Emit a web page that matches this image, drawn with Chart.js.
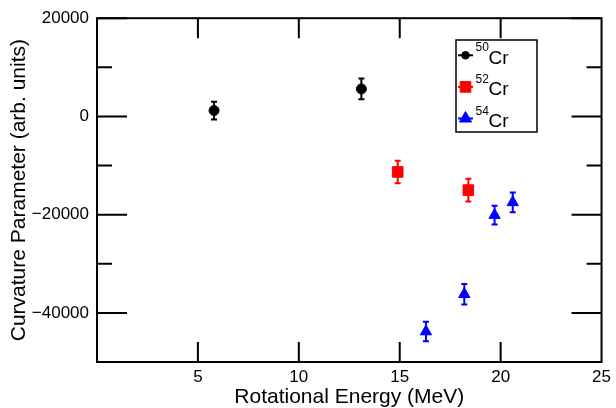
<!DOCTYPE html>
<html><head><meta charset="utf-8">
<script src="https://cdn.jsdelivr.net/npm/chart.js@4/dist/chart.umd.min.js"></script>
<style>html,body{margin:0;padding:0;background:#fff}</style>
</head><body>
<canvas id="c" width="616" height="408" style="width:616px;height:408px;display:block"></canvas>
<script>
// ---- data ----
const massNumbers = ['50', '52', '54'];
const element = 'Cr';
const cr50X = [5.8, 13.1];
const cr50Y = [1200, 5600];
const cr50Err = [1800, 2100];
const cr52X = [14.9, 18.4];
const cr52Y = [-11300, -15000];
const cr52Err = [2300, 2300];
const cr54X = [16.3, 18.2, 19.7, 20.6];
const cr54Y = [-43800, -36200, -20100, -17500];
const cr54Err = [2000, 2100, 1900, 2000];
const xTickLabels = [5, 10, 15, 20, 25];
const yTickLabels = [20000, 0, -20000, -40000];
const xTitle = 'Rotational Energy (MeV)';
const yTitle = 'Curvature Parameter (arb. units)';

const FONT = "'Liberation Sans', Arial, sans-serif";

function pts(xs, ys, es) { return xs.map((x, i) => ({x: x, y: ys[i], e: es[i]})); }

const errPlugin = {
  id: 'errbars',
  beforeDatasetsDraw(chart) {
    const ctx = chart.ctx, xs = chart.scales.x, ys = chart.scales.y;
    chart.data.datasets.forEach(ds => {
      ctx.save();
      ctx.strokeStyle = ds.borderColor;
      ctx.lineWidth = 2;
      ds.data.forEach(p => {
        const px = xs.getPixelForValue(p.x);
        const y1 = ys.getPixelForValue(p.y + p.e), y2 = ys.getPixelForValue(p.y - p.e);
        ctx.beginPath();
        ctx.moveTo(px, y1); ctx.lineTo(px, y2);
        ctx.moveTo(px - 3, y1); ctx.lineTo(px + 3, y1);
        ctx.moveTo(px - 3, y2); ctx.lineTo(px + 3, y2);
        ctx.stroke();
      });
      ctx.restore();
    });
  }
};

const framePlugin = {
  id: 'frame',
  afterDraw(chart) {
    const ctx = chart.ctx, a = chart.chartArea, xs = chart.scales.x, ys = chart.scales.y;
    ctx.save();
    ctx.strokeStyle = '#000';
    ctx.lineWidth = 2;
    ctx.strokeRect(a.left, a.top, a.right - a.left, a.bottom - a.top);
    ctx.beginPath();
    ys.ticks.forEach(t => {
      const py = ys.getPixelForValue(t.value);
      const len = (t.value % 20000 === 0) ? 30 : 15;
      ctx.moveTo(a.left, py); ctx.lineTo(a.left + len, py);
      ctx.moveTo(a.right, py); ctx.lineTo(a.right - len, py);
    });
    xs.ticks.forEach(t => {
      if (t.value <= xs.min || t.value >= xs.max) return;
      const px = xs.getPixelForValue(t.value);
      ctx.moveTo(px, a.bottom); ctx.lineTo(px, a.bottom - 20);
      ctx.moveTo(px, a.top); ctx.lineTo(px, a.top + 20);
    });
    ctx.stroke();
    ctx.restore();

    // legend
    const L = {x: 456, y: 40, w: 81, h: 92, row0: 55.3, dy: 31.6, mx: 465.5};
    const legendRadius = [3.8, 7.5, 7];
    ctx.save();
    ctx.fillStyle = '#fff';
    ctx.fillRect(L.x, L.y, L.w, L.h);
    ctx.strokeStyle = '#000';
    ctx.lineWidth = 1.5;
    ctx.strokeRect(L.x, L.y, L.w, L.h);
    chart.data.datasets.forEach((ds, i) => {
      const cy = L.row0 + i * L.dy;
      ctx.strokeStyle = ds.borderColor;
      ctx.lineWidth = 2;
      ctx.beginPath(); ctx.moveTo(L.mx - 7.5, cy); ctx.lineTo(L.mx + 7.5, cy); ctx.stroke();
      ctx.fillStyle = ds.backgroundColor;
      ctx.lineWidth = 1;
      Chart.helpers.drawPoint(ctx, {pointStyle: ds.pointStyle, radius: legendRadius[i], rotation: 0, borderWidth: 1}, L.mx, cy);
      ctx.fillStyle = '#000';
      ctx.textBaseline = 'alphabetic';
      ctx.textAlign = 'left';
      ctx.font = '12px ' + FONT;
      ctx.fillText(massNumbers[i], 475.5, cy - 4);
      ctx.font = '19px ' + FONT;
      ctx.fillText(element, 488.5, cy + 8.3);
    });
    ctx.restore();
  }
};

new Chart(document.getElementById('c'), {
  type: 'scatter',
  data: {
    datasets: [
      {label: massNumbers[0] + element, data: pts(cr50X, cr50Y, cr50Err), pointStyle: 'circle', pointRadius: 5,
       backgroundColor: '#000000', borderColor: '#000000', borderWidth: 1},
      {label: massNumbers[1] + element, data: pts(cr52X, cr52Y, cr52Err), pointStyle: 'rect', pointRadius: 7.5,
       backgroundColor: '#ff0000', borderColor: '#ff0000', borderWidth: 1},
      {label: massNumbers[2] + element, data: pts(cr54X, cr54Y, cr54Err), pointStyle: 'triangle', pointRadius: 6.5,
       backgroundColor: '#0000ff', borderColor: '#0000ff', borderWidth: 1}
    ]
  },
  options: {
    responsive: false,
    animation: false,
    devicePixelRatio: 1,
    layout: {padding: {left: 0, right: 12, top: 17, bottom: 0}},
    plugins: {legend: {display: false}, tooltip: {enabled: false}},
    scales: {
      x: {
        type: 'linear', min: 0, max: 25,
        grid: {display: false, drawTicks: false},
        border: {display: false},
        ticks: {stepSize: 5, padding: 5, color: '#000', font: {family: FONT, size: 17}, maxRotation: 0,
          callback: v => xTickLabels.includes(v) ? String(v) : ''},
        title: {display: true, text: xTitle, color: '#000', font: {family: FONT, size: 21, lineHeight: 1}, padding: {top: 0, bottom: 0}},
        afterFit: s => { s.height = 46; }
      },
      y: {
        type: 'linear', min: -50000, max: 20000,
        grid: {display: false, drawTicks: false},
        border: {display: false},
        ticks: {stepSize: 10000, padding: 8, color: '#000', font: {family: FONT, size: 17},
          callback: v => yTickLabels.includes(v) ? (v < 0 ? '\u2212' + Math.abs(v) : String(v)) : ''},
        title: {display: true, text: yTitle, color: '#000', font: {family: FONT, size: 21}, padding: {top: 7, bottom: 0}},
        afterFit: s => { s.width = 97; }
      }
    }
  },
  plugins: [errPlugin, framePlugin]
});
</script>
</body></html>
